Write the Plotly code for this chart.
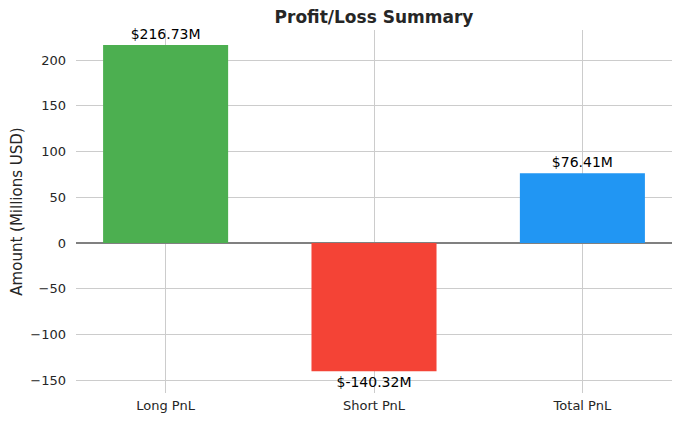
import plotly.graph_objects as go

categories = ['Long PnL', 'Short PnL', 'Total PnL']
amounts = [216.73, -140.32, 76.41]
bar_colors = ['#4CAF50', '#F44336', '#2196F3']

labels = ['$%.2fM' % v for v in amounts]

fig = go.Figure()
fig.add_trace(go.Bar(
    x=list(range(len(categories))),
    y=amounts,
    width=0.6,
    marker=dict(color=bar_colors, line=dict(width=0)),
    text=labels,
    textposition='outside',
    textfont=dict(size=14, color='black'),
    cliponaxis=False,
))

# page body adds an 8px offset, margins compensate for it
fig.update_layout(
    width=680, height=421,
    margin=dict(l=68, r=16, t=22, b=36),
    plot_bgcolor='white',
    paper_bgcolor='white',
    font=dict(family='DejaVu Sans', size=13, color='#262626'),
    title=dict(text='<b>Profit/Loss Summary</b>', x=0.5, xref='paper',
               y=1 - 3 / 421, yref='container', yanchor='top',
               font=dict(size=17, color='#262626')),
    showlegend=False,
)
fig.update_xaxes(
    range=[-0.43, 2.43],
    tickvals=list(range(len(categories))),
    ticktext=categories,
    showgrid=True, gridcolor='#cccccc', gridwidth=1,
    zeroline=False, showline=False, ticks='',
    ticklabelstandoff=3,
    automargin=False,
)
fig.update_yaxes(
    range=[-164, 233],
    tickvals=[-150, -100, -50, 0, 50, 100, 150, 200],
    ticktext=['\u2212150', '\u2212100', '\u221250', '0', '50', '100', '150', '200'],
    showgrid=True, gridcolor='#cccccc', gridwidth=1,
    zeroline=True, zerolinecolor='#808080', zerolinewidth=1.5,
    showline=False, ticks='',
    ticklabelstandoff=9,
    automargin=False,
    title=dict(text='Amount (Millions USD)', standoff=7, font=dict(size=15)),
)

fig.write_html("out.html")
